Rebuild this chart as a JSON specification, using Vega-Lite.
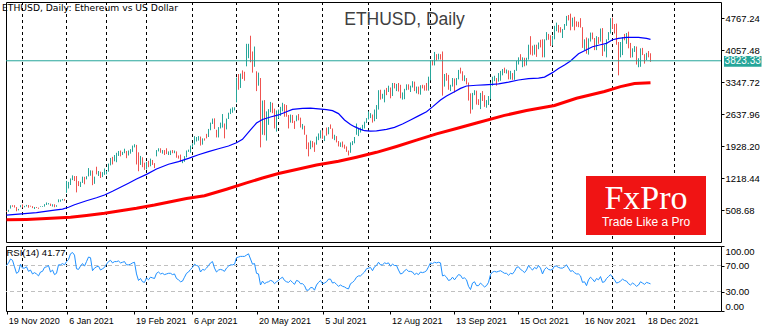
{
"$schema":"https://vega.github.io/schema/vega-lite/v6.json",
"background":"#ffffff",
"padding":{"left":0,"top":1,"right":0,"bottom":0},
"spacing":2,
"title":{"text":"ETHUSD, Daily:  Ethereum vs US Dollar","anchor":"start","offset":-12,"dx":2,"fontSize":9.2,"fontWeight":"normal","color":"#000000","font":"DejaVu Sans"},
"datasets":{
"bars":[
{"i":0,"o":478,"h":490,"l":465,"c":471,"r":70},{"i":1,"o":471,"h":512,"l":468,"c":509,"r":74},{"i":2,"o":549,"h":612,"l":540,"c":608,"r":80},{"i":3,"o":608,"h":615,"l":580,"c":604,"r":78},{"i":4,"o":604,"h":616,"l":563,"c":569,"r":68},{"i":5,"o":569,"h":574,"l":480,"c":518,"r":58},{"i":6,"o":518,"h":533,"l":500,"c":518,"r":60},{"i":7,"o":575,"h":616,"l":570,"c":614,"r":72},
{"i":8,"o":614,"h":634,"l":563,"c":587,"r":66},{"i":9,"o":587,"h":600,"l":570,"c":598,"r":66},{"i":10,"o":598,"h":622,"l":587,"c":616,"r":68},{"i":11,"o":616,"h":619,"l":560,"c":569,"r":61},{"i":12,"o":596,"h":604,"l":583,"c":592,"r":63},{"i":13,"o":592,"h":594,"l":551,"c":555,"r":57},{"i":14,"o":555,"h":576,"l":530,"c":573,"r":59},{"i":15,"o":573,"h":575,"l":553,"c":560,"r":57},{"i":16,"o":560,"h":561,"l":535,"c":545,"r":54},{"i":17,"o":585,"h":591,"l":576,"c":586,"r":60},{"i":18,"o":586,"h":595,"l":578,"c":589,"r":61},{"i":19,"o":589,"h":639,"l":584,"c":636,"r":67},{"i":20,"o":636,"h":676,"l":620,"c":642,"r":68},{"i":21,"o":642,"h":662,"l":633,"c":654,"r":70},{"i":22,"o":637,"h":650,"l":599,"c":609,"r":60},{"i":23,"o":609,"h":637,"l":585,"c":634,"r":63},{"i":24,"o":634,"h":636,"l":571,"c":584,"r":56},{"i":25,"o":584,"h":615,"l":580,"c":612,"r":58},{"i":26,"o":683,"h":745,"l":681,"c":731,"r":71},{"i":27,"o":731,"h":738,"l":693,"c":731,"r":71},{"i":28,"o":731,"h":754,"l":721,"c":752,"r":73},{"i":29,"o":752,"h":754,"l":715,"c":737,"r":71},
{"i":30,"o":975,"h":1155,"l":890,"c":1041,"r":76},{"i":31,"o":1041,"h":1133,"l":987,"c":1100,"r":79},{"i":32,"o":1100,"h":1210,"l":1064,"c":1208,"r":88},{"i":33,"o":1208,"h":1278,"l":1173,"c":1226,"r":90},{"i":34,"o":1226,"h":1262,"l":1152,"c":1224,"r":86},{"i":35,"o":1262,"h":1263,"l":900,"c":1090,"r":65},{"i":36,"o":1090,"h":1150,"l":1040,"c":1044,"r":64},{"i":37,"o":1044,"h":1135,"l":1020,"c":1130,"r":69},{"i":38,"o":1130,"h":1250,"l":1110,"c":1218,"r":73},{"i":39,"o":1218,"h":1245,"l":1080,"c":1171,"r":69},{"i":40,"o":1230,"h":1260,"l":1190,"c":1257,"r":76},{"i":41,"o":1257,"h":1440,"l":1255,"c":1377,"r":83},{"i":42,"o":1377,"h":1390,"l":1270,"c":1383,"r":82},{"i":43,"o":1383,"h":1385,"l":1060,"c":1121,"r":62},{"i":44,"o":1121,"h":1250,"l":1090,"c":1236,"r":66},{"i":45,"o":1390,"h":1470,"l":1300,"c":1324,"r":68},{"i":46,"o":1324,"h":1375,"l":1265,"c":1357,"r":69},{"i":47,"o":1357,"h":1360,"l":1220,"c":1253,"r":63},{"i":48,"o":1253,"h":1350,"l":1240,"c":1332,"r":65},{"i":49,"o":1332,"h":1430,"l":1290,"c":1382,"r":67},
{"i":50,"o":1315,"h":1375,"l":1300,"c":1370,"r":72},{"i":51,"o":1370,"h":1540,"l":1360,"c":1512,"r":76},{"i":52,"o":1512,"h":1665,"l":1500,"c":1661,"r":78},{"i":53,"o":1661,"h":1690,"l":1520,"c":1594,"r":74},{"i":54,"o":1594,"h":1730,"l":1590,"c":1719,"r":76},{"i":55,"o":1610,"h":1780,"l":1570,"c":1743,"r":76},{"i":56,"o":1743,"h":1820,"l":1710,"c":1768,"r":77},{"i":57,"o":1768,"h":1830,"l":1700,"c":1744,"r":74},{"i":58,"o":1744,"h":1800,"l":1730,"c":1784,"r":75},{"i":59,"o":1784,"h":1870,"l":1770,"c":1843,"r":76},{"i":60,"o":1800,"h":1820,"l":1660,"c":1777,"r":71},{"i":61,"o":1777,"h":1830,"l":1720,"c":1782,"r":71},{"i":62,"o":1782,"h":1860,"l":1760,"c":1848,"r":72},{"i":63,"o":1848,"h":1940,"l":1800,"c":1937,"r":74},{"i":64,"o":1937,"h":1970,"l":1900,"c":1960,"r":75},{"i":65,"o":1935,"h":1955,"l":1520,"c":1780,"r":57},{"i":66,"o":1780,"h":1790,"l":1370,"c":1570,"r":47},{"i":67,"o":1570,"h":1710,"l":1510,"c":1626,"r":50},{"i":68,"o":1626,"h":1680,"l":1460,"c":1476,"r":45},{"i":69,"o":1476,"h":1560,"l":1400,"c":1446,"r":44},
{"i":70,"o":1420,"h":1580,"l":1410,"c":1570,"r":51},{"i":71,"o":1570,"h":1600,"l":1460,"c":1492,"r":48},{"i":72,"o":1492,"h":1650,"l":1480,"c":1576,"r":52},{"i":73,"o":1576,"h":1620,"l":1510,"c":1541,"r":51},{"i":74,"o":1541,"h":1550,"l":1440,"c":1533,"r":50},{"i":75,"o":1720,"h":1840,"l":1700,"c":1836,"r":58},{"i":76,"o":1836,"h":1880,"l":1810,"c":1868,"r":60},{"i":77,"o":1868,"h":1880,"l":1780,"c":1799,"r":57},{"i":78,"o":1799,"h":1840,"l":1760,"c":1826,"r":58},{"i":79,"o":1826,"h":1840,"l":1730,"c":1769,"r":56},{"i":80,"o":1860,"h":1880,"l":1750,"c":1790,"r":57},{"i":81,"o":1790,"h":1810,"l":1730,"c":1807,"r":58},{"i":82,"o":1807,"h":1830,"l":1730,"c":1823,"r":58},{"i":83,"o":1823,"h":1840,"l":1770,"c":1782,"r":56},{"i":84,"o":1782,"h":1830,"l":1770,"c":1818,"r":57},{"i":85,"o":1780,"h":1810,"l":1670,"c":1681,"r":50},{"i":86,"o":1681,"h":1720,"l":1650,"c":1669,"r":48},{"i":87,"o":1669,"h":1740,"l":1580,"c":1582,"r":45},{"i":88,"o":1582,"h":1620,"l":1550,"c":1587,"r":46},{"i":89,"o":1587,"h":1705,"l":1580,"c":1702,"r":52},{"i":90,"o":1690,"h":1830,"l":1680,"c":1819,"r":58},{"i":91,"o":1819,"h":1850,"l":1800,"c":1846,"r":60},{"i":92,"o":1846,"h":1940,"l":1780,"c":1918,"r":64},
{"i":93,"o":1918,"h":1990,"l":1900,"c":1977,"r":67},{"i":94,"o":1977,"h":2150,"l":1960,"c":2142,"r":72},{"i":95,"o":2080,"h":2130,"l":2030,"c":2109,"r":70},{"i":96,"o":2109,"h":2150,"l":2050,"c":2115,"r":69},{"i":97,"o":2115,"h":2140,"l":1940,"c":1971,"r":60},{"i":98,"o":1971,"h":2100,"l":1960,"c":2089,"r":64},{"i":99,"o":2089,"h":2100,"l":2050,"c":2076,"r":63},{"i":100,"o":2150,"h":2200,"l":2100,"c":2139,"r":66},{"i":101,"o":2139,"h":2310,"l":2130,"c":2297,"r":70},{"i":102,"o":2297,"h":2450,"l":2280,"c":2432,"r":74},{"i":103,"o":2432,"h":2540,"l":2420,"c":2514,"r":76},{"i":104,"o":2514,"h":2545,"l":2310,"c":2423,"r":66},{"i":105,"o":2240,"h":2290,"l":2120,"c":2158,"r":60},{"i":106,"o":2158,"h":2350,"l":2120,"c":2333,"r":63},{"i":107,"o":2333,"h":2450,"l":2320,"c":2357,"r":64},{"i":108,"o":2357,"h":2640,"l":2340,"c":2397,"r":63},{"i":109,"o":2397,"h":2430,"l":2100,"c":2364,"r":61},{"i":110,"o":2330,"h":2540,"l":2300,"c":2535,"r":66},{"i":111,"o":2535,"h":2670,"l":2530,"c":2662,"r":69},{"i":112,"o":2662,"h":2760,"l":2640,"c":2747,"r":71},{"i":113,"o":2747,"h":2790,"l":2670,"c":2757,"r":71},{"i":114,"o":2757,"h":2790,"l":2720,"c":2773,"r":72},
{"i":115,"o":2950,"h":3450,"l":2900,"c":3431,"r":82},{"i":116,"o":3431,"h":3530,"l":3180,"c":3253,"r":83},{"i":117,"o":3253,"h":3540,"l":3220,"c":3523,"r":84},{"i":118,"o":3523,"h":3610,"l":3420,"c":3490,"r":84},{"i":119,"o":3490,"h":3580,"l":3380,"c":3484,"r":84},{"i":120,"o":3900,"h":4200,"l":3700,"c":3950,"r":86},{"i":121,"o":3950,"h":4200,"l":3880,"c":4168,"r":88},{"i":122,"o":4168,"h":4380,"l":3790,"c":3786,"r":80},{"i":123,"o":3786,"h":4030,"l":3560,"c":3716,"r":72},{"i":124,"o":3716,"h":4140,"l":3690,"c":4080,"r":73},{"i":125,"o":3590,"h":3590,"l":3150,"c":3275,"r":58},{"i":126,"o":3275,"h":3560,"l":3270,"c":3380,"r":57},{"i":127,"o":3380,"h":3440,"l":1900,"c":2460,"r":40},{"i":128,"o":2460,"h":2940,"l":2180,"c":2772,"r":46},{"i":129,"o":2772,"h":2950,"l":2170,"c":2430,"r":42},{"i":130,"o":2100,"h":2700,"l":2050,"c":2640,"r":44},{"i":131,"o":2640,"h":2750,"l":2400,"c":2708,"r":45},{"i":132,"o":2708,"h":2910,"l":2680,"c":2888,"r":47},{"i":133,"o":2888,"h":2890,"l":2660,"c":2745,"r":46},{"i":134,"o":2745,"h":2760,"l":2320,"c":2425,"r":42},{"i":135,"o":2300,"h":2720,"l":2250,"c":2633,"r":45},
{"i":136,"o":2633,"h":2740,"l":2540,"c":2706,"r":47},{"i":137,"o":2706,"h":2800,"l":2600,"c":2780,"r":50},{"i":138,"o":2780,"h":2890,"l":2700,"c":2855,"r":52},{"i":139,"o":2855,"h":2860,"l":2580,"c":2688,"r":47},{"i":140,"o":2710,"h":2840,"l":2580,"c":2590,"r":45},{"i":141,"o":2590,"h":2620,"l":2320,"c":2517,"r":44},{"i":142,"o":2517,"h":2630,"l":2450,"c":2609,"r":47},{"i":143,"o":2609,"h":2620,"l":2440,"c":2472,"r":44},{"i":144,"o":2472,"h":2490,"l":2310,"c":2353,"r":41},{"i":145,"o":2510,"h":2610,"l":2480,"c":2587,"r":47},{"i":146,"o":2587,"h":2640,"l":2500,"c":2549,"r":46},{"i":147,"o":2549,"h":2560,"l":2340,"c":2367,"r":42},{"i":148,"o":2367,"h":2420,"l":2300,"c":2372,"r":42},{"i":149,"o":2372,"h":2380,"l":2180,"c":2230,"r":39},{"i":150,"o":2170,"h":2180,"l":1860,"c":1889,"r":32},{"i":151,"o":1889,"h":2010,"l":1700,"c":1874,"r":32},{"i":152,"o":1874,"h":2050,"l":1860,"c":1992,"r":36},{"i":153,"o":1992,"h":2040,"l":1900,"c":1990,"r":36},{"i":154,"o":1990,"h":2010,"l":1800,"c":1813,"r":32},{"i":155,"o":1970,"h":2140,"l":1960,"c":2080,"r":40},{"i":156,"o":2080,"h":2210,"l":2060,"c":2160,"r":44},{"i":157,"o":2160,"h":2280,"l":2100,"c":2275,"r":47},
{"i":158,"o":2275,"h":2280,"l":2090,"c":2113,"r":42},{"i":159,"o":2113,"h":2160,"l":2040,"c":2150,"r":43},{"i":160,"o":2320,"h":2340,"l":2160,"c":2198,"r":45},{"i":161,"o":2198,"h":2350,"l":2190,"c":2323,"r":49},{"i":162,"o":2323,"h":2410,"l":2310,"c":2318,"r":49},{"i":163,"o":2318,"h":2320,"l":2090,"c":2115,"r":43},{"i":164,"o":2115,"h":2180,"l":2060,"c":2146,"r":44},{"i":165,"o":2140,"h":2150,"l":2010,"c":2035,"r":41},{"i":166,"o":2035,"h":2040,"l":1920,"c":1941,"r":38},{"i":167,"o":1941,"h":2010,"l":1910,"c":1995,"r":40},{"i":168,"o":1995,"h":2030,"l":1900,"c":1912,"r":38},{"i":169,"o":1912,"h":1960,"l":1870,"c":1880,"r":37},{"i":170,"o":1900,"h":1920,"l":1800,"c":1820,"r":35},{"i":171,"o":1820,"h":1830,"l":1720,"c":1787,"r":34},{"i":172,"o":1787,"h":2010,"l":1780,"c":1995,"r":42},{"i":173,"o":1995,"h":2040,"l":1950,"c":2025,"r":44},{"i":174,"o":2025,"h":2130,"l":1990,"c":2123,"r":47},{"i":175,"o":2190,"h":2430,"l":2180,"c":2230,"r":52},{"i":176,"o":2230,"h":2310,"l":2150,"c":2300,"r":54},{"i":177,"o":2300,"h":2340,"l":2230,"c":2300,"r":54},{"i":178,"o":2300,"h":2400,"l":2280,"c":2382,"r":57},{"i":179,"o":2382,"h":2470,"l":2320,"c":2460,"r":60},{"i":180,"o":2460,"h":2550,"l":2440,"c":2540,"r":65},
{"i":181,"o":2540,"h":2700,"l":2520,"c":2557,"r":66},{"i":182,"o":2557,"h":2660,"l":2550,"c":2608,"r":67},{"i":183,"o":2608,"h":2630,"l":2450,"c":2507,"r":62},{"i":184,"o":2507,"h":2740,"l":2480,"c":2725,"r":68},{"i":185,"o":2725,"h":2840,"l":2530,"c":2827,"r":70},{"i":186,"o":2827,"h":3170,"l":2740,"c":3158,"r":75},{"i":187,"o":3158,"h":3180,"l":2960,"c":3013,"r":71},{"i":188,"o":3013,"h":3090,"l":2980,"c":3013,"r":71},{"i":189,"o":3013,"h":3180,"l":2900,"c":3163,"r":74},{"i":190,"o":3163,"h":3220,"l":3060,"c":3142,"r":73},{"i":191,"o":3142,"h":3270,"l":3130,"c":3165,"r":74},{"i":192,"o":3165,"h":3230,"l":2990,"c":3049,"r":69},{"i":193,"o":3049,"h":3330,"l":3040,"c":3322,"r":72},{"i":194,"o":3322,"h":3330,"l":3210,"c":3266,"r":70},{"i":195,"o":3266,"h":3310,"l":3150,"c":3309,"r":70},{"i":196,"o":3309,"h":3330,"l":3140,"c":3149,"r":63},{"i":197,"o":3149,"h":3290,"l":2990,"c":3012,"r":57},{"i":198,"o":3012,"h":3120,"l":2960,"c":3018,"r":58},{"i":199,"o":3018,"h":3200,"l":2970,"c":3183,"r":62},{"i":200,"o":3183,"h":3300,"l":3170,"c":3287,"r":64},{"i":201,"o":3287,"h":3300,"l":3180,"c":3225,"r":61},{"i":202,"o":3225,"h":3270,"l":3130,"c":3243,"r":61},{"i":203,"o":3243,"h":3370,"l":3230,"c":3322,"r":60},{"i":204,"o":3322,"h":3360,"l":3150,"c":3172,"r":56},{"i":205,"o":3172,"h":3250,"l":3100,"c":3225,"r":58},{"i":206,"o":3225,"h":3250,"l":3080,"c":3101,"r":56},{"i":207,"o":3101,"h":3280,"l":3070,"c":3271,"r":60},{"i":208,"o":3271,"h":3290,"l":3210,"c":3244,"r":59},{"i":209,"o":3244,"h":3280,"l":3160,"c":3227,"r":60},{"i":210,"o":3227,"h":3330,"l":3160,"c":3225,"r":62},{"i":211,"o":3225,"h":3470,"l":3160,"c":3433,"r":68},
{"i":212,"o":3433,"h":3840,"l":3390,"c":3834,"r":74},{"i":213,"o":3834,"h":3840,"l":3720,"c":3790,"r":73},{"i":214,"o":3790,"h":4020,"l":3720,"c":3940,"r":75},{"i":215,"o":3940,"h":3970,"l":3830,"c":3887,"r":74},{"i":216,"o":3887,"h":3980,"l":3850,"c":3952,"r":75},{"i":217,"o":3952,"h":3970,"l":3850,"c":3927,"r":74},{"i":218,"o":3927,"h":4030,"l":3050,"c":3431,"r":54},{"i":219,"o":3431,"h":3530,"l":3250,"c":3497,"r":55},{"i":220,"o":3497,"h":3550,"l":3380,"c":3427,"r":52},{"i":221,"o":3427,"h":3510,"l":3180,"c":3211,"r":47},{"i":222,"o":3211,"h":3290,"l":3150,"c":3270,"r":48},{"i":223,"o":3270,"h":3440,"l":3250,"c":3410,"r":52},{"i":224,"o":3410,"h":3430,"l":3120,"c":3286,"r":48},{"i":225,"o":3286,"h":3440,"l":3280,"c":3427,"r":52},{"i":226,"o":3427,"h":3620,"l":3410,"c":3612,"r":56},{"i":227,"o":3612,"h":3670,"l":3540,"c":3571,"r":55},{"i":228,"o":3571,"h":3590,"l":3380,"c":3398,"r":50},{"i":229,"o":3398,"h":3500,"l":3370,"c":3434,"r":51},{"i":230,"o":3434,"h":3440,"l":3300,"c":3331,"r":48},{"i":231,"o":3331,"h":3340,"l":2940,"c":2977,"r":38},{"i":232,"o":2977,"h":3100,"l":2650,"c":2759,"r":33},{"i":233,"o":2759,"h":3110,"l":2740,"c":3078,"r":43},{"i":234,"o":3078,"h":3170,"l":3060,"c":3155,"r":45},{"i":235,"o":3155,"h":3160,"l":2850,"c":2931,"r":39},{"i":236,"o":2931,"h":2970,"l":2840,"c":2926,"r":39},{"i":237,"o":2926,"h":3110,"l":2750,"c":3063,"r":43},{"i":238,"o":3063,"h":3150,"l":2930,"c":2946,"r":40},{"i":239,"o":2946,"h":3060,"l":2800,"c":2807,"r":37},{"i":240,"o":2807,"h":2950,"l":2780,"c":2853,"r":39},{"i":241,"o":2853,"h":3040,"l":2840,"c":3001,"r":44},
{"i":242,"o":3001,"h":3340,"l":2970,"c":3308,"r":56},{"i":243,"o":3308,"h":3470,"l":3270,"c":3391,"r":60},{"i":244,"o":3391,"h":3490,"l":3370,"c":3418,"r":61},{"i":245,"o":3418,"h":3440,"l":3270,"c":3381,"r":60},{"i":246,"o":3381,"h":3550,"l":3360,"c":3518,"r":61},{"i":247,"o":3518,"h":3600,"l":3380,"c":3581,"r":62},{"i":248,"o":3581,"h":3640,"l":3500,"c":3587,"r":60},{"i":249,"o":3587,"h":3670,"l":3550,"c":3563,"r":58},{"i":250,"o":3563,"h":3630,"l":3540,"c":3575,"r":58},{"i":251,"o":3575,"h":3610,"l":3410,"c":3426,"r":55},{"i":252,"o":3426,"h":3600,"l":3410,"c":3545,"r":58},{"i":253,"o":3545,"h":3550,"l":3400,"c":3493,"r":57},{"i":254,"o":3493,"h":3620,"l":3400,"c":3606,"r":61},{"i":255,"o":3606,"h":3820,"l":3600,"c":3788,"r":67},{"i":256,"o":3788,"h":3900,"l":3740,"c":3865,"r":68},{"i":257,"o":3865,"h":3970,"l":3820,"c":3830,"r":64},{"i":258,"o":3830,"h":3900,"l":3680,"c":3847,"r":62},{"i":259,"o":3847,"h":3890,"l":3700,"c":3748,"r":59},{"i":260,"o":3748,"h":3890,"l":3720,"c":3877,"r":63},{"i":261,"o":3877,"h":4180,"l":3850,"c":4155,"r":70},{"i":262,"o":4155,"h":4370,"l":3960,"c":4057,"r":66},{"i":263,"o":4057,"h":4160,"l":3940,"c":3970,"r":63},{"i":264,"o":3970,"h":4180,"l":3960,"c":4170,"r":67},{"i":265,"o":4170,"h":4180,"l":3910,"c":4087,"r":65},{"i":266,"o":4087,"h":4230,"l":4080,"c":4217,"r":70},{"i":267,"o":4217,"h":4290,"l":4120,"c":4131,"r":66},{"i":268,"o":4131,"h":4300,"l":3900,"c":3924,"r":57},{"i":269,"o":3924,"h":4300,"l":3900,"c":4288,"r":64},{"i":270,"o":4288,"h":4460,"l":4280,"c":4417,"r":67},{"i":271,"o":4417,"h":4420,"l":4290,"c":4324,"r":64},{"i":272,"o":4324,"h":4390,"l":4150,"c":4288,"r":63},
{"i":273,"o":4288,"h":4380,"l":4160,"c":4320,"r":64},{"i":274,"o":4320,"h":4600,"l":4300,"c":4590,"r":69},{"i":275,"o":4590,"h":4670,"l":4480,"c":4607,"r":69},{"i":276,"o":4607,"h":4620,"l":4450,"c":4537,"r":67},{"i":277,"o":4537,"h":4570,"l":4450,"c":4480,"r":66},{"i":278,"o":4480,"h":4530,"l":4330,"c":4520,"r":66},{"i":279,"o":4520,"h":4640,"l":4510,"c":4620,"r":68},{"i":280,"o":4620,"h":4820,"l":4600,"c":4812,"r":71},{"i":281,"o":4812,"h":4840,"l":4720,"c":4735,"r":66},{"i":282,"o":4735,"h":4870,"l":4500,"c":4637,"r":61},{"i":283,"o":4637,"h":4780,"l":4580,"c":4732,"r":62},{"i":284,"o":4732,"h":4800,"l":4500,"c":4667,"r":59},{"i":285,"o":4667,"h":4700,"l":4580,"c":4648,"r":57},{"i":286,"o":4648,"h":4690,"l":4570,"c":4625,"r":57},{"i":287,"o":4625,"h":4770,"l":4560,"c":4567,"r":54},{"i":288,"o":4567,"h":4570,"l":4110,"c":4226,"r":44},{"i":289,"o":4226,"h":4300,"l":4060,"c":4291,"r":45},{"i":290,"o":4291,"h":4340,"l":3980,"c":3980,"r":39},{"i":291,"o":3980,"h":4320,"l":3960,"c":4305,"r":48},{"i":292,"o":4305,"h":4450,"l":4250,"c":4436,"r":52},{"i":293,"o":4436,"h":4450,"l":4300,"c":4318,"r":49},{"i":294,"o":4318,"h":4330,"l":4060,"c":4093,"r":45},{"i":295,"o":4093,"h":4370,"l":4060,"c":4340,"r":50},{"i":296,"o":4340,"h":4350,"l":4200,"c":4270,"r":48},{"i":297,"o":4270,"h":4540,"l":4250,"c":4525,"r":53},{"i":298,"o":4525,"h":4550,"l":3930,"c":4045,"r":44},{"i":299,"o":4045,"h":4180,"l":4030,"c":4096,"r":45},{"i":300,"o":4096,"h":4300,"l":3900,"c":4295,"r":50},{"i":301,"o":4295,"h":4460,"l":4280,"c":4445,"r":53},{"i":302,"o":4445,"h":4770,"l":4430,"c":4632,"r":56},
{"i":303,"o":4632,"h":4780,"l":4530,"c":4586,"r":52},{"i":304,"o":4586,"h":4640,"l":4430,"c":4519,"r":48},{"i":305,"o":4519,"h":4650,"l":4180,"c":4240,"r":43},{"i":306,"o":4240,"h":4240,"l":3500,"c":4117,"r":44},{"i":307,"o":4117,"h":4240,"l":3900,"c":4198,"r":46},{"i":308,"o":4198,"h":4350,"l":3950,"c":4348,"r":49},{"i":309,"o":4348,"h":4420,"l":4280,"c":4309,"r":47},{"i":310,"o":4309,"h":4440,"l":4200,"c":4429,"r":46},{"i":311,"o":4429,"h":4470,"l":4100,"c":4111,"r":42},{"i":312,"o":4111,"h":4220,"l":3890,"c":3908,"r":40},{"i":313,"o":3908,"h":4100,"l":3900,"c":4085,"r":43},{"i":314,"o":4085,"h":4150,"l":4020,"c":4137,"r":41},{"i":315,"o":4137,"h":4140,"l":3740,"c":3782,"r":38},{"i":316,"o":3782,"h":3880,"l":3680,"c":3861,"r":40},{"i":317,"o":3861,"h":4100,"l":3690,"c":4018,"r":45},{"i":318,"o":4018,"h":4110,"l":3950,"c":3960,"r":43},{"i":319,"o":3960,"h":3970,"l":3760,"c":3888,"r":41},{"i":320,"o":3888,"h":4000,"l":3840,"c":3960,"r":44},{"i":321,"o":3960,"h":4040,"l":3900,"c":3924,"r":43},{"i":322,"o":3924,"h":3990,"l":3800,"c":3823.33,"r":41.77}
],
"ma50":[
{"i":0,"v":397},{"i":9,"v":427},{"i":15,"v":450},{"i":24,"v":508},{"i":28,"v":530},{"i":31,"v":570},{"i":34,"v":625},{"i":40,"v":715},{"i":45,"v":780},{"i":49,"v":842},{"i":53,"v":925},{"i":57,"v":1013},{"i":61,"v":1105},{"i":65,"v":1197},{"i":70,"v":1300},{"i":75,"v":1420},{"i":81,"v":1525},{"i":86,"v":1585},{"i":91,"v":1657},{"i":96,"v":1735},{"i":101,"v":1804},{"i":106,"v":1870},{"i":111,"v":1930},{"i":115,"v":2004},{"i":118,"v":2080},{"i":122,"v":2290},{"i":125,"v":2440},{"i":128,"v":2520},{"i":132,"v":2575},{"i":136,"v":2620},{"i":140,"v":2690},{"i":143,"v":2745},{"i":148,"v":2767},{"i":152,"v":2770},{"i":156,"v":2755},{"i":160,"v":2740},{"i":163,"v":2715},{"i":166,"v":2650},{"i":169,"v":2508},{"i":172,"v":2410},{"i":174,"v":2360},{"i":177,"v":2300},{"i":179,"v":2270},{"i":182,"v":2262},{"i":185,"v":2268},{"i":190,"v":2300},{"i":194,"v":2345},{"i":198,"v":2420},{"i":202,"v":2508},{"i":206,"v":2600},{"i":210,"v":2693},{"i":213,"v":2800},{"i":217,"v":2952},{"i":220,"v":3040},{"i":224,"v":3137},{"i":227,"v":3210},{"i":230,"v":3263},{"i":235,"v":3280},{"i":239,"v":3290},{"i":243,"v":3300},{"i":246,"v":3310},{"i":251,"v":3350},{"i":256,"v":3396},{"i":261,"v":3425},{"i":266,"v":3440},{"i":269,"v":3460},{"i":273,"v":3560},{"i":276,"v":3650},{"i":279,"v":3730},{"i":282,"v":3820},{"i":286,"v":3980},{"i":290,"v":4070},{"i":293,"v":4136},{"i":297,"v":4180},{"i":300,"v":4210},{"i":303,"v":4290},{"i":306,"v":4320},{"i":310,"v":4345},{"i":316,"v":4345},{"i":320,"v":4320},{"i":322,"v":4300}
],
"ma200":[
{"i":0,"v":290},{"i":10,"v":300},{"i":20,"v":318},{"i":32,"v":346},{"i":40,"v":385},{"i":49,"v":435},{"i":57,"v":490},{"i":65,"v":546},{"i":74,"v":620},{"i":82,"v":694},{"i":90,"v":765},{"i":99,"v":827},{"i":110,"v":970},{"i":120,"v":1110},{"i":128,"v":1220},{"i":136,"v":1320},{"i":145,"v":1410},{"i":155,"v":1510},{"i":166,"v":1590},{"i":175,"v":1680},{"i":185,"v":1790},{"i":195,"v":1920},{"i":205,"v":2060},{"i":215,"v":2200},{"i":225,"v":2320},{"i":235,"v":2440},{"i":249,"v":2610},{"i":260,"v":2720},{"i":274,"v":2830},{"i":285,"v":2990},{"i":299,"v":3140},{"i":307,"v":3250},{"i":314,"v":3320},{"i":322,"v":3337}
],
"grid":[{"g":8},{"g":30},{"g":50},{"g":70},{"g":93},{"g":115},{"g":136},{"g":158},{"g":181},{"g":212},{"g":242},{"g":273},{"g":303},{"g":334}],
"levels":[{"lv":30},{"lv":70}],
"price":[{"p":3823.33}]
},
"vconcat":[
{
"width":715,"height":240,
"title":{"text":"ETHUSD, Daily","anchor":"middle","dx":41,"offset":-27,"fontSize":17.5,"fontWeight":"normal","color":"#404040","font":"Liberation Sans"},
"layer":[
{"data":{"name":"grid"},"mark":{"type":"rule","color":"#000000","strokeWidth":1,"strokeDash":[3,3]},
 "encoding":{"x":{"field":"g","type":"quantitative","scale":{"domain":[-0.25,357.25],"nice":false,"zero":false},"axis":null}}},
{"data":{"name":"bars"},"mark":{"type":"rule","strokeWidth":1},
 "encoding":{
  "x":{"field":"i","type":"quantitative","scale":{"domain":[-0.25,357.25],"nice":false,"zero":false},"axis":null},
  "y":{"field":"l","type":"quantitative","scale":{"domain":[-202,5129],"nice":false,"zero":false},"title":null,
   "axis":{"orient":"right","values":[508.68,1218.44,1928.2,2637.96,3347.72,4057.48,4767.24],"format":".2f","grid":false,"domain":false,"tickColor":"#000000","tickSize":3,"labelPadding":1,"labelFontSize":9.5,"labelColor":"#000000","labelFont":"Liberation Sans","labelOverlap":false,"labelFlush":false,"title":null}},
  "y2":{"field":"h"},
  "color":{"condition":{"test":"datum.c >= datum.o","value":"#26a69a"},"value":"#ef5350"}}},
{"data":{"name":"ma200"},"mark":{"type":"line","color":"#ff0000","strokeWidth":3},
 "encoding":{"x":{"field":"i","type":"quantitative","axis":null},"y":{"field":"v","type":"quantitative","title":null,
   "axis":{"orient":"right","values":[508.68,1218.44,1928.2,2637.96,3347.72,4057.48,4767.24],"format":".2f","grid":false,"domain":false,"tickColor":"#000000","tickSize":3,"labelPadding":1,"labelFontSize":9.5,"labelColor":"#000000","labelFont":"Liberation Sans","labelOverlap":false,"labelFlush":false,"title":null}}}},
{"data":{"name":"ma50"},"mark":{"type":"line","color":"#0000ff","strokeWidth":1.2},
 "encoding":{"x":{"field":"i","type":"quantitative","axis":null},"y":{"field":"v","type":"quantitative","title":null,
   "axis":{"orient":"right","values":[508.68,1218.44,1928.2,2637.96,3347.72,4057.48,4767.24],"format":".2f","grid":false,"domain":false,"tickColor":"#000000","tickSize":3,"labelPadding":1,"labelFontSize":9.5,"labelColor":"#000000","labelFont":"Liberation Sans","labelOverlap":false,"labelFlush":false,"title":null}}}},
{"data":{"name":"price"},"mark":{"type":"rule","color":"#26a69a","strokeWidth":1},
 "encoding":{"y":{"field":"p","type":"quantitative","title":null,
   "axis":{"orient":"right","values":[508.68,1218.44,1928.2,2637.96,3347.72,4057.48,4767.24],"format":".2f","grid":false,"domain":false,"tickColor":"#000000","tickSize":3,"labelPadding":1,"labelFontSize":9.5,"labelColor":"#000000","labelFont":"Liberation Sans","labelOverlap":false,"labelFlush":false,"title":null}}}},
{"data":{"values":[{}]},"mark":{"type":"rect","color":"#f01414"},
 "encoding":{"x":{"datum":289.75,"type":"quantitative","axis":null},"x2":{"datum":349.75},"y":{"datum":1264,"type":"quantitative","title":null,
   "axis":{"orient":"right","values":[508.68,1218.44,1928.2,2637.96,3347.72,4057.48,4767.24],"format":".2f","grid":false,"domain":false,"tickColor":"#000000","tickSize":3,"labelPadding":1,"labelFontSize":9.5,"labelColor":"#000000","labelFont":"Liberation Sans","labelOverlap":false,"labelFlush":false,"title":null}},"y2":{"datum":-46.5}}},
{"data":{"values":[{}]},"mark":{"type":"text","text":"FxPro","color":"#ffffff","font":"Liberation Serif","fontSize":34,"align":"center","baseline":"alphabetic"},
 "encoding":{"x":{"datum":319.75,"type":"quantitative","axis":null},"y":{"datum":531,"type":"quantitative","title":null,
   "axis":{"orient":"right","values":[508.68,1218.44,1928.2,2637.96,3347.72,4057.48,4767.24],"format":".2f","grid":false,"domain":false,"tickColor":"#000000","tickSize":3,"labelPadding":1,"labelFontSize":9.5,"labelColor":"#000000","labelFont":"Liberation Sans","labelOverlap":false,"labelFlush":false,"title":null}}}},
{"data":{"values":[{}]},"mark":{"type":"text","text":"Trade Like a Pro","color":"#ffffff","font":"Liberation Sans","fontSize":12,"align":"center","baseline":"alphabetic"},
 "encoding":{"x":{"datum":319.75,"type":"quantitative","axis":null},"y":{"datum":153,"type":"quantitative","title":null,
   "axis":{"orient":"right","values":[508.68,1218.44,1928.2,2637.96,3347.72,4057.48,4767.24],"format":".2f","grid":false,"domain":false,"tickColor":"#000000","tickSize":3,"labelPadding":1,"labelFontSize":9.5,"labelColor":"#000000","labelFont":"Liberation Sans","labelOverlap":false,"labelFlush":false,"title":null}}}},
{"data":{"values":[{}]},"mark":{"type":"rect","color":"#26a69a","clip":false},
 "encoding":{"x":{"datum":358.75,"type":"quantitative","axis":null},"x2":{"datum":377.5},"y":{"datum":3930,"type":"quantitative","title":null,
   "axis":{"orient":"right","values":[508.68,1218.44,1928.2,2637.96,3347.72,4057.48,4767.24],"format":".2f","grid":false,"domain":false,"tickColor":"#000000","tickSize":3,"labelPadding":1,"labelFontSize":9.5,"labelColor":"#000000","labelFont":"Liberation Sans","labelOverlap":false,"labelFlush":false,"title":null}},"y2":{"datum":3692}}},
{"data":{"name":"price"},"mark":{"type":"text","color":"#ffffff","font":"Liberation Sans","fontSize":10,"align":"center","baseline":"middle","clip":false},
 "encoding":{"x":{"datum":368.1,"type":"quantitative","axis":null},"y":{"field":"p","type":"quantitative","title":null,
   "axis":{"orient":"right","values":[508.68,1218.44,1928.2,2637.96,3347.72,4057.48,4767.24],"format":".2f","grid":false,"domain":false,"tickColor":"#000000","tickSize":3,"labelPadding":1,"labelFontSize":9.5,"labelColor":"#000000","labelFont":"Liberation Sans","labelOverlap":false,"labelFlush":false,"title":null}},"text":{"field":"p","type":"quantitative","format":".2f"}}}
]
},
{
"width":715,"height":65,
"title":{"text":"RSI(14) 41.77","anchor":"start","offset":-12,"dx":2,"fontSize":9.5,"fontWeight":"normal","color":"#000000","font":"Liberation Sans"},
"layer":[
{"data":{"name":"grid"},"mark":{"type":"rule","color":"#000000","strokeWidth":1,"strokeDash":[3,3]},
 "encoding":{"x":{"field":"g","type":"quantitative","scale":{"domain":[-0.25,357.25],"nice":false,"zero":false},"title":null,
   "axis":{"values":[0.1,30.4,63.75,92.75,125.25,158.4,191.75,223.75,255.75,288.1,319.6],
    "labelExpr":"datum.value<15?'19 Nov 2020':datum.value<45?'6 Jan 2021':datum.value<75?'19 Feb 2021':datum.value<110?'6 Apr 2021':datum.value<140?'20 May 2021':datum.value<175?'5 Jul 2021':datum.value<205?'12 Aug 2021':datum.value<240?'13 Sep 2021':datum.value<270?'15 Oct 2021':datum.value<300?'16 Nov 2021':'18 Dec 2021'",
    "labelAlign":"left","labelOffset":1.5,"labelPadding":2,"tickSize":3,"tickColor":"#000000","domain":false,"grid":false,"labelFontSize":9,"labelColor":"#000000","labelFont":"Liberation Sans","labelFlush":false,"labelOverlap":false,"title":null}}}},
{"data":{"name":"levels"},"mark":{"type":"rule","color":"#c0c0c0","strokeWidth":1,"strokeDash":[4,3]},
 "encoding":{"y":{"field":"lv","type":"quantitative","scale":{"domain":[0,100],"nice":false,"zero":false},"title":null,
   "axis":{"orient":"right","values":[0,30,70,100],"format":".2f","labelFlush":true,"labelOverlap":false,"grid":false,"domain":false,"tickColor":"#000000","tickSize":3,"labelPadding":1,"labelFontSize":9.5,"labelColor":"#000000","labelFont":"Liberation Sans","title":null}}}},
{"data":{"name":"bars"},"mark":{"type":"line","color":"#1e90ff","strokeWidth":1},
 "encoding":{
  "x":{"field":"i","type":"quantitative","title":null,
   "axis":{"values":[0.1,30.4,63.75,92.75,125.25,158.4,191.75,223.75,255.75,288.1,319.6],
    "labelExpr":"datum.value<15?'19 Nov 2020':datum.value<45?'6 Jan 2021':datum.value<75?'19 Feb 2021':datum.value<110?'6 Apr 2021':datum.value<140?'20 May 2021':datum.value<175?'5 Jul 2021':datum.value<205?'12 Aug 2021':datum.value<240?'13 Sep 2021':datum.value<270?'15 Oct 2021':datum.value<300?'16 Nov 2021':'18 Dec 2021'",
    "labelAlign":"left","labelOffset":1.5,"labelPadding":2,"tickSize":3,"tickColor":"#000000","domain":false,"grid":false,"labelFontSize":9,"labelColor":"#000000","labelFont":"Liberation Sans","labelFlush":false,"labelOverlap":false,"title":null}},
  "y":{"field":"r","type":"quantitative","title":null,
   "axis":{"orient":"right","values":[0,30,70,100],"format":".2f","labelFlush":true,"labelOverlap":false,"grid":false,"domain":false,"tickColor":"#000000","tickSize":3,"labelPadding":1,"labelFontSize":9.5,"labelColor":"#000000","labelFont":"Liberation Sans","title":null}}}}
]
}
],
"resolve":{"scale":{"x":"independent","y":"independent"}},
"config":{"view":{"stroke":"#000000","strokeWidth":1},"font":"Liberation Sans","axis":{"labelOverlap":false}}
}
